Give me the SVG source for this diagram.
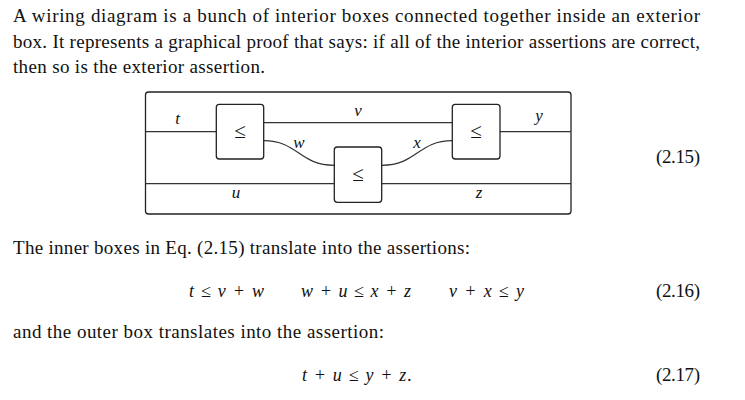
<svg xmlns="http://www.w3.org/2000/svg" width="745" height="400" viewBox="0 0 745 400">
<style>
text{font-family:"Liberation Serif","Times New Roman",serif;fill:#111}
.b{font-size:19px}
.m{font-size:18px;font-style:italic}
.l{font-size:17px;font-style:italic;text-anchor:middle}
.s{font-size:21px;text-anchor:middle}
.w{fill:none;stroke:#333;stroke-width:1.2}
.n{fill:#fff;stroke:#222;stroke-width:1.3}
</style>
<rect width="745" height="400" fill="#fff"/>
<g id="prose">
<text class="b" x="13" y="22" textLength="687" lengthAdjust="spacing">A wiring diagram is a bunch of interior boxes connected together inside an exterior</text>
<text class="b" x="13" y="48" textLength="687" lengthAdjust="spacing">box. It represents a graphical proof that says: if all of the interior assertions are correct,</text>
<text class="b" x="13" y="73" textLength="252" lengthAdjust="spacing">then so is the exterior assertion.</text>
<text class="b" x="13" y="254" textLength="457" lengthAdjust="spacing">The inner boxes in Eq. (2.15) translate into the assertions:</text>
<text class="b" x="13" y="338" textLength="371" lengthAdjust="spacing">and the outer box translates into the assertion:</text>
</g>
<g id="outer"><rect class="n" x="145.5" y="92" width="425.5" height="122" rx="3"/></g>
<g id="connectors">
<path class="w" d="M145.5 131.7H216.3"/>
<path class="w" d="M263.7 122.7H452.3"/>
<path class="w" d="M500 131.7H571"/>
<path class="w" d="M263.7 140.7C298 140.7 299 165.3 334.3 165.3"/>
<path class="w" d="M381.7 165.3C417 165.3 418 140.7 452.3 140.7"/>
<path class="w" d="M145.5 183.7H334.3"/>
<path class="w" d="M381.7 183.7H571"/>
</g>
<g id="box1"><rect class="n" x="216.3" y="104.3" width="47.4" height="54.7" rx="3"/><text class="s" x="240" y="138">≤</text></g>
<g id="box2"><rect class="n" x="334.3" y="147" width="47.4" height="55.3" rx="3"/><text class="s" x="358" y="181">≤</text></g>
<g id="box3"><rect class="n" x="452.3" y="104.3" width="47.7" height="54.7" rx="3"/><text class="s" x="476" y="138">≤</text></g>
<g id="labels">
<text class="l" x="177.5" y="124">t</text>
<text class="l" x="358" y="116">v</text>
<text class="l" x="539" y="121">y</text>
<text class="l" x="299" y="148">w</text>
<text class="l" x="417" y="148">x</text>
<text class="l" x="236" y="198">u</text>
<text class="l" x="479" y="198">z</text>
</g>
<g id="equations">
<text class="b" x="656" y="163" textLength="44">(2.15)</text>
<text class="m" x="189" y="297" textLength="75">t ≤ v + w</text>
<text class="m" x="301" y="297" textLength="110">w + u ≤ x + z</text>
<text class="m" x="449" y="297" textLength="75">v + x ≤ y</text>
<text class="b" x="656" y="297" textLength="44">(2.16)</text>
<text class="m" x="302" y="381" textLength="110">t + u ≤ y + z.</text>
<text class="b" x="656" y="381" textLength="44">(2.17)</text>
</g>
</svg>
